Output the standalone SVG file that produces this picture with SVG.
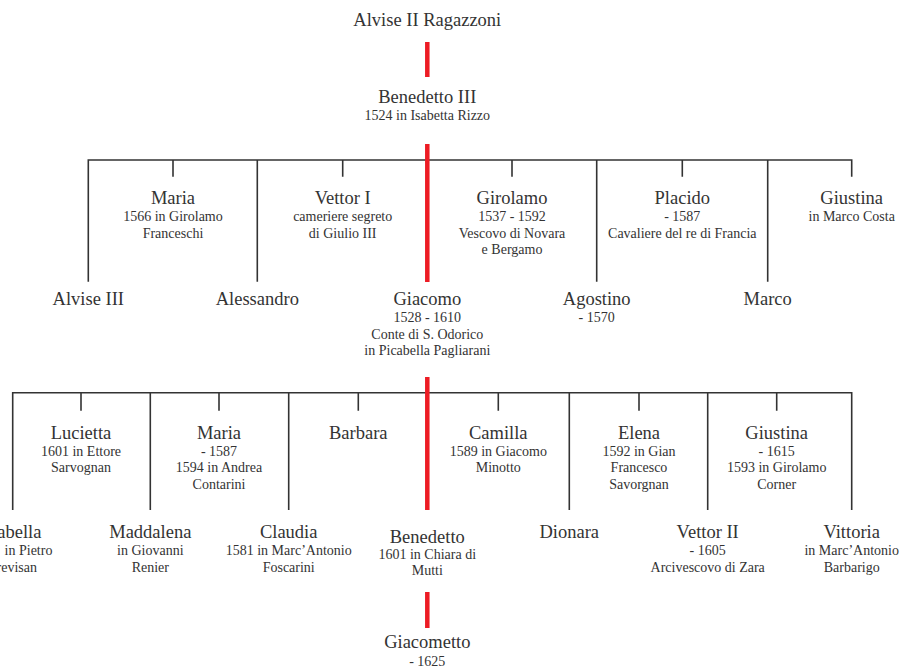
<svg xmlns="http://www.w3.org/2000/svg" width="901" height="668" viewBox="0 0 901 668">
<style>
  text { font-family: "Liberation Serif", "Times New Roman", serif; fill: #333; text-anchor: middle; }
  .n { font-size: 18.5px; }
  .s { font-size: 14px; }
  .ln { stroke: #333; stroke-width: 1.6; fill: none; }
  .red { stroke: #ed1c24; stroke-width: 4.5; fill: none; }
</style>
<rect width="901" height="668" fill="#fff"/>
<g id="connectors">
  <line class="red" x1="427.3" y1="42" x2="427.3" y2="77"/>
  <path class="ln" d="M88.3 281.7V160H851.7V176.7 M173 160V176.7 M257.3 160V281.7 M342.7 160V176.7 M512 160V176.7 M596.7 160V281.7 M682.3 160V176.7 M767.7 160V281.7"/>
  <line class="red" x1="427.3" y1="144" x2="427.3" y2="282"/>
  <path class="ln" d="M12.7 510V392.7H851.7V510 M81 392.7V410.7 M150.3 392.7V510 M219 392.7V410.7 M288.7 392.7V510 M358.3 392.7V410.7 M498.3 392.7V410.7 M569.3 392.7V510 M639 392.7V410.7 M707.7 392.7V510 M776.7 392.7V410.7"/>
  <line class="red" x1="427.3" y1="377" x2="427.3" y2="510"/>
  <line class="red" x1="427.3" y1="592" x2="427.3" y2="628"/>
</g>
<g id="alvise-ii"><text class="n" x="427.3" y="26">Alvise II Ragazzoni</text></g>
<g id="benedetto-iii"><text class="n" x="427.3" y="103">Benedetto III</text><text class="s" x="427.3" y="120">1524 in Isabetta Rizzo</text></g>

<g id="maria-1"><text class="n" x="173" y="204">Maria</text><text class="s" x="173" y="221">1566 in Girolamo</text><text class="s" x="173" y="237.5">Franceschi</text></g>
<g id="vettor-i"><text class="n" x="342.7" y="204">Vettor I</text><text class="s" x="342.7" y="221">cameriere segreto</text><text class="s" x="342.7" y="237.5">di Giulio III</text></g>
<g id="girolamo"><text class="n" x="512" y="204">Girolamo</text><text class="s" x="512" y="221">1537 - 1592</text><text class="s" x="512" y="237.5">Vescovo di Novara</text><text class="s" x="512" y="254">e Bergamo</text></g>
<g id="placido"><text class="n" x="682.3" y="204">Placido</text><text class="s" x="682.3" y="221">- 1587</text><text class="s" x="682.3" y="237.5">Cavaliere del re di Francia</text></g>
<g id="giustina-1"><text class="n" x="851.7" y="204">Giustina</text><text class="s" x="851.7" y="221">in Marco Costa</text></g>

<g id="alvise-iii"><text class="n" x="88.3" y="305">Alvise III</text></g>
<g id="alessandro"><text class="n" x="257.3" y="305">Alessandro</text></g>
<g id="giacomo"><text class="n" x="427.3" y="305">Giacomo</text><text class="s" x="427.3" y="322">1528 - 1610</text><text class="s" x="427.3" y="338.5">Conte di S. Odorico</text><text class="s" x="427.3" y="355">in Picabella Pagliarani</text></g>
<g id="agostino"><text class="n" x="596.7" y="305">Agostino</text><text class="s" x="596.7" y="322">- 1570</text></g>
<g id="marco"><text class="n" x="767.7" y="305">Marco</text></g>

<g id="lucietta"><text class="n" x="81" y="439">Lucietta</text><text class="s" x="81" y="455.5">1601 in Ettore</text><text class="s" x="81" y="472">Sarvognan</text></g>
<g id="maria-2"><text class="n" x="219" y="439">Maria</text><text class="s" x="219" y="455.5">- 1587</text><text class="s" x="219" y="472">1594 in Andrea</text><text class="s" x="219" y="488.5">Contarini</text></g>
<g id="barbara"><text class="n" x="358.3" y="439">Barbara</text></g>
<g id="camilla"><text class="n" x="498.3" y="439">Camilla</text><text class="s" x="498.3" y="455.5">1589 in Giacomo</text><text class="s" x="498.3" y="472">Minotto</text></g>
<g id="elena"><text class="n" x="639" y="439">Elena</text><text class="s" x="639" y="455.5">1592 in Gian</text><text class="s" x="639" y="472">Francesco</text><text class="s" x="639" y="488.5">Savorgnan</text></g>
<g id="giustina-2"><text class="n" x="776.7" y="439">Giustina</text><text class="s" x="776.7" y="455.5">- 1615</text><text class="s" x="776.7" y="472">1593 in Girolamo</text><text class="s" x="776.7" y="488.5">Corner</text></g>

<g id="isabella"><text class="n" x="12.7" y="538">Isabella</text><text class="s" x="28.5" y="555">in Pietro</text><text class="s" x="12.7" y="571.5">Trevisan</text></g>
<g id="maddalena"><text class="n" x="150.3" y="538">Maddalena</text><text class="s" x="150.3" y="555">in Giovanni</text><text class="s" x="150.3" y="571.5">Renier</text></g>
<g id="claudia"><text class="n" x="288.7" y="538">Claudia</text><text class="s" x="288.7" y="555">1581 in Marc’Antonio</text><text class="s" x="288.7" y="571.5">Foscarini</text></g>
<g id="benedetto"><text class="n" x="427.3" y="542.7">Benedetto</text><text class="s" x="427.3" y="558.5">1601 in Chiara di</text><text class="s" x="427.3" y="575">Mutti</text></g>
<g id="dionara"><text class="n" x="569.3" y="538">Dionara</text></g>
<g id="vettor-ii"><text class="n" x="707.7" y="538">Vettor II</text><text class="s" x="707.7" y="555">- 1605</text><text class="s" x="707.7" y="571.5">Arcivescovo di Zara</text></g>
<g id="vittoria"><text class="n" x="851.7" y="538">Vittoria</text><text class="s" x="851.7" y="555">in Marc’Antonio</text><text class="s" x="851.7" y="571.5">Barbarigo</text></g>

<g id="giacometto"><text class="n" x="427.3" y="648.3">Giacometto</text><text class="s" x="427.3" y="665.5">- 1625</text></g>
</svg>
